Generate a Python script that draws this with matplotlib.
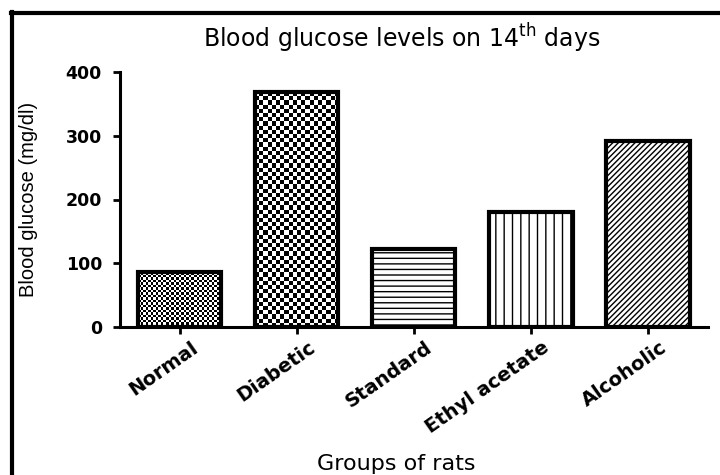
import numpy as np
import matplotlib
matplotlib.use("Agg")
import matplotlib.pyplot as plt
import matplotlib.transforms as mtrans
from matplotlib.lines import Line2D

# Valores
groups = ['Normal', 'Diabetic', 'Standard', 'Ethyl acetate', 'Alcoholic']
glucose = [86, 368, 122, 180, 292]
hatches = [None, None, '---', '||', '//////']
checker_px = [2.5, 4.2, None, None, None]  # tamanho da célula do xadrez (px)

plt.rcParams['font.family'] = ['DejaVu Sans']
plt.rcParams['hatch.linewidth'] = 1.0

fig = plt.figure(figsize=(7.2, 4.75), dpi=100)
ax = fig.add_axes([0.1667, 0.3116, 0.8163, 0.5368])

x = np.arange(len(groups))
bars = ax.bar(x, glucose, width=0.71, color='white', edgecolor='black',
              linewidth=3, zorder=2)
for b, h, c in zip(bars, hatches, checker_px):
    if h:
        b.set_hatch(h)
    if c is not None:
        b.set_facecolor('none')

ax.set_xlim(-0.51, 4.51)
ax.set_ylim(0, 400)
ax.set_yticks([0, 100, 200, 300, 400])
ax.set_xticks(x)
ax.set_xticklabels(groups, rotation=35, ha='right', va='top',
                   rotation_mode='anchor', fontsize=14, fontweight='bold')
for lab in ax.get_yticklabels():
    lab.set_fontsize(12.5)
    lab.set_fontweight('bold')

for s in ['top', 'right']:
    ax.spines[s].set_visible(False)
for s in ['left', 'bottom']:
    ax.spines[s].set_linewidth(2.2)
ax.tick_params(axis='both', width=2, length=5, direction='out')
ax.tick_params(axis='y', pad=8)
ax.tick_params(axis='x', pad=3)

# Padrão xadrez dentro das barras Normal e Diabetic
fig.canvas.draw()
for b, c in zip(bars, checker_px):
    if c is None:
        continue
    x0, y0 = b.get_x(), b.get_y()
    x1, y1 = x0 + b.get_width(), y0 + b.get_height()
    p0 = ax.transData.transform((x0, y0))
    p1 = ax.transData.transform((x1, y1))
    nx = max(1, int(round(abs(p1[0] - p0[0]) / c)))
    ny = max(1, int(round(abs(p1[1] - p0[1]) / c)))
    img = (np.add.outer(np.arange(ny), np.arange(nx)) % 2).astype(float)
    im = ax.imshow(img, cmap='gray', extent=(x0, x1, y0, y1), aspect='auto',
                   interpolation='nearest', zorder=1.5, origin='lower')
    im.set_clip_path(b)
ax.set_xlim(-0.51, 4.51)
ax.set_ylim(0, 400)

# desloca os rótulos do eixo x um pouco para a direita
offset = mtrans.ScaledTranslation(8 / 72, 0, fig.dpi_scale_trans)
for t in ax.xaxis.get_major_ticks():
    t.label1.set_transform(t.label1.get_transform() + offset)

ax.set_title('Blood glucose levels on 14$^{\\mathregular{th}}$ days',
             fontsize=17, pad=18, x=0.48)
ax.set_xlabel('Groups of rats', fontsize=16)
ax.xaxis.set_label_coords(0.47, -0.50)
ax.set_ylabel('Blood glucose (mg/dl)', fontsize=14.5,
              family=['Liberation Sans Narrow', 'Liberation Sans'])
ax.yaxis.set_label_coords(-0.14, 0.5)

# Moldura preta (topo e esquerda)
fig.add_artist(Line2D([0.017, 0.017], [0, 0.975], color='black', lw=3,
                      transform=fig.transFigure))
fig.add_artist(Line2D([0.015, 1.0], [0.973, 0.973], color='black', lw=3,
                      transform=fig.transFigure))

fig.savefig('out.png', dpi=100)
